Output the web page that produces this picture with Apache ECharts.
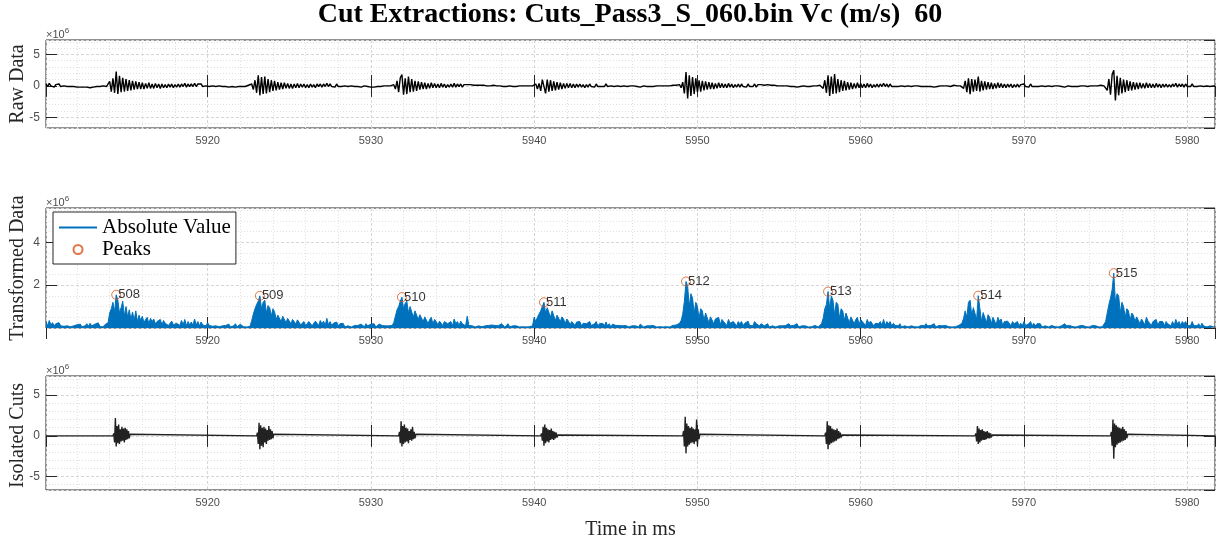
<!DOCTYPE html>
<html>
<head>
<meta charset="utf-8">
<title>Cut Extractions</title>
<script src="https://cdn.jsdelivr.net/npm/echarts@6/dist/echarts.min.js"></script>
<style>
  html, body { margin: 0; padding: 0; background: #fff; }
  #chart { width: 1217px; height: 541px; }
</style>
</head>
<body>
<div id="chart"></div>
<script>
  // samples every 0.1 ms, values in units of 1e6
  const timeStart = 5910.1
  const timeStep = 0.1

  const rawData = [
    0.3,-0.1,0.4,0.0,0.3,-0.2,0.2,0.1,0.3,-0.1,
    0.2,0.0,0.1,-0.1,0.1,-0.1,0.0,-0.1,0.0,-0.2,
    -0.1,-0.2,0.0,-0.2,-0.1,-0.2,-0.1,-0.3,-0.1,-0.2,
    -0.2,-0.1,-0.3,-0.1,-0.2,0.0,-0.2,-0.1,0.2,0.7,
    -0.9,1.2,-1.1,2.3,-1.3,1.6,-1.0,1.3,-0.9,1.1,
    -0.8,0.9,-0.7,0.8,-0.6,0.7,-0.5,0.6,-0.5,0.5,
    -0.5,0.4,-0.4,0.5,-0.4,0.3,-0.4,0.4,-0.3,0.3,
    -0.4,0.3,-0.3,0.2,-0.3,0.3,-0.2,0.3,-0.3,0.2,
    -0.2,0.3,-0.2,0.3,-0.1,0.4,-0.2,0.3,-0.1,0.3,
    -0.1,0.4,-0.1,0.3,0.0,0.3,-0.1,0.2,0.0,0.2,
    -0.1,0.2,0.0,0.1,-0.1,0.1,0.0,0.1,-0.1,0.0,
    -0.1,0.0,-0.2,0.0,-0.1,-0.1,-0.2,0.0,-0.1,-0.2,
    -0.1,0.0,-0.1,0.0,0.1,0.0,0.3,-0.6,0.9,-1.1,
    1.7,-1.5,1.4,-1.3,1.5,-1.2,1.1,-1.0,0.9,-0.8,
    0.8,-0.7,0.6,-0.6,0.5,-0.5,0.5,-0.4,0.4,-0.4,
    0.3,-0.4,0.3,-0.3,0.4,-0.3,0.3,-0.2,0.3,-0.3,
    0.2,-0.3,0.3,-0.2,0.2,-0.3,0.3,-0.1,0.3,-0.2,
    0.3,-0.1,0.4,-0.1,0.3,-0.1,0.2,-0.2,0.3,-0.1,
    0.2,-0.1,0.2,0.0,0.1,-0.1,0.1,0.0,0.0,-0.1,
    0.0,-0.1,0.0,-0.2,-0.1,0.0,-0.2,-0.1,-0.1,-0.2,
    -0.1,-0.2,0.0,-0.1,-0.2,-0.1,-0.1,0.0,-0.1,0.0,
    -0.1,0.0,0.1,0.2,-0.5,0.8,-1.0,1.3,1.8,-1.4,
    1.2,-1.3,1.5,-1.0,1.1,-0.9,0.8,-0.8,0.7,-0.6,
    0.6,-0.5,0.5,-0.5,0.4,-0.4,0.5,-0.3,0.4,-0.3,
    0.3,-0.3,0.4,-0.2,0.3,-0.3,0.2,-0.2,0.3,-0.2,
    0.4,-0.2,0.3,-0.1,0.3,-0.2,0.2,-0.1,0.2,-0.1,
    0.2,-0.1,0.1,0.0,0.1,-0.1,0.1,0.0,0.1,-0.1,
    0.0,-0.1,0.0,-0.1,0.1,-0.1,0.0,-0.1,0.0,-0.2,
    -0.1,0.0,-0.1,-0.2,0.0,-0.1,-0.1,0.0,-0.1,0.0,
    0.0,-0.1,0.0,0.1,0.0,-0.1,0.0,0.1,0.0,0.1,
    0.3,-0.5,0.4,-0.8,1.0,1.3,-1.2,1.0,-0.9,0.9,
    -0.8,0.7,-0.7,0.6,-0.6,0.5,-0.5,0.4,-0.4,0.4,
    -0.3,0.4,-0.3,0.3,-0.3,0.3,-0.2,0.3,-0.2,0.2,
    -0.3,0.2,-0.2,0.3,-0.1,0.2,-0.2,0.3,-0.1,0.2,
    -0.1,0.2,-0.1,0.3,-0.1,0.2,0.0,0.2,-0.1,0.1,
    0.0,0.1,-0.1,0.1,0.0,0.1,-0.1,0.0,0.0,-0.1,
    0.0,-0.1,-0.1,0.0,-0.2,-0.1,0.0,-0.1,-0.1,0.0,
    -0.1,0.0,-0.1,0.0,0.0,-0.1,0.0,0.1,0.0,-0.1,
    0.0,0.1,0.0,0.0,0.1,-0.1,0.1,0.0,0.2,-0.3,
    0.6,-1.2,2.2,-2.0,1.7,-1.6,1.4,-1.3,1.2,-1.0,
    0.9,-0.9,0.8,-0.7,0.7,-0.6,0.6,-0.5,0.5,-0.5,
    0.4,-0.4,0.5,-0.3,0.4,-0.3,0.3,-0.3,0.4,-0.2,
    0.3,-0.3,0.2,-0.2,0.3,-0.2,0.3,-0.1,0.2,-0.2,
    0.3,-0.1,0.2,-0.1,0.3,-0.2,0.2,-0.1,0.2,-0.1,
    0.1,-0.1,0.2,0.0,0.1,-0.1,0.1,0.0,0.0,-0.1,
    0.0,-0.1,0.0,-0.1,0.0,-0.2,-0.1,0.0,-0.1,-0.1,
    -0.2,0.0,-0.1,-0.1,0.0,-0.1,-0.1,0.0,-0.1,0.0,
    0.0,-0.1,0.0,0.0,0.1,0.2,-0.4,0.9,-1.1,1.7,
    -1.6,1.5,-1.3,1.9,-1.2,1.1,-1.0,0.9,-0.8,0.8,
    -0.7,0.6,-0.6,0.5,-0.5,0.4,-0.4,0.5,-0.3,0.4,
    -0.3,0.3,-0.3,0.4,-0.2,0.3,-0.3,0.2,-0.2,0.3,
    -0.2,0.3,-0.1,0.4,-0.1,0.3,-0.2,0.3,-0.1,0.2,
    -0.1,0.2,-0.1,0.2,0.0,0.1,-0.1,0.1,0.0,0.1,
    -0.1,0.0,0.0,-0.1,0.0,-0.1,-0.1,0.0,-0.1,-0.2,
    -0.1,0.0,-0.1,-0.1,-0.2,0.0,-0.1,-0.1,0.0,-0.1,
    0.0,-0.1,0.0,0.0,-0.1,0.0,0.1,0.0,0.0,0.1,
    0.0,0.2,-0.4,0.8,-1.0,1.2,-1.3,1.1,-0.9,1.0,
    -0.8,1.5,-0.9,0.8,-0.7,0.7,-0.6,0.6,-0.5,0.5,
    -0.5,0.4,-0.4,0.5,-0.3,0.4,-0.3,0.3,-0.3,0.3,
    -0.2,0.3,-0.3,0.2,-0.2,0.3,-0.2,0.2,-0.1,0.3,
    -0.1,0.2,-0.2,0.3,-0.1,0.2,-0.1,0.2,-0.1,0.2,
    0.0,0.1,-0.1,0.1,0.0,0.1,-0.1,0.0,0.0,-0.1,
    0.0,-0.1,-0.1,0.0,-0.2,-0.1,0.0,-0.1,-0.1,0.0,
    -0.1,0.0,-0.1,-0.1,0.0,-0.1,0.0,0.0,-0.1,0.0,
    0.0,-0.1,0.0,0.1,0.0,0.0,0.1,0.0,0.0,0.3,
    -0.7,1.1,-1.4,1.8,2.5,-2.3,1.6,-1.5,1.3,-1.2,
    1.0,-1.0,0.9,-0.8,0.7,-0.7,0.6,-0.6,0.5,-0.5,
    0.5,-0.4,0.4,-0.4,0.5,-0.3,0.4,-0.3,0.3,-0.3,
    0.4,-0.2,0.3,-0.3,0.3,-0.2,0.3,-0.2,0.2,-0.2,
    0.3,-0.1,0.4,-0.2,0.3,-0.1,0.3,-0.2,0.3,-0.1,
    0.2,-0.1,0.3,-0.1,0.2,-0.1,0.2,0.0,0.2,-0.1,
    0.1,0.0,0.1,-0.1,0.1,0.0,0.0
  ]

  const absData = [
    0.3,0.1,0.35,0.15,0.25,0.1,0.2,0.12,0.25,0.1,
    0.18,0.08,0.15,0.1,0.14,0.06,0.12,0.1,0.08,0.15,
    0.1,0.18,0.06,0.15,0.1,0.2,0.08,0.22,0.1,0.16,
    0.18,0.1,0.24,0.08,0.17,0.05,0.15,0.1,0.25,0.7,
    0.9,1.2,0.75,1.55,1.3,0.7,0.95,1.25,0.55,1.0,
    0.5,0.85,0.4,0.75,0.35,0.8,0.3,0.6,0.35,0.55,
    0.25,0.4,0.5,0.2,0.45,0.3,0.42,0.2,0.3,0.38,
    0.4,0.15,0.35,0.22,0.3,0.12,0.2,0.32,0.15,0.2,
    0.22,0.3,0.12,0.35,0.15,0.4,0.1,0.3,0.14,0.28,
    0.12,0.42,0.15,0.3,0.1,0.28,0.14,0.22,0.1,0.25,
    0.12,0.2,0.08,0.15,0.1,0.14,0.06,0.12,0.1,0.08,
    0.12,0.05,0.18,0.06,0.12,0.1,0.2,0.05,0.12,0.18,
    0.1,0.06,0.12,0.05,0.1,0.08,0.35,0.65,0.9,1.1,
    1.25,1.5,0.9,1.2,1.3,0.7,1.05,0.95,0.55,0.9,
    0.75,0.4,0.6,0.65,0.3,0.55,0.48,0.25,0.45,0.4,
    0.2,0.4,0.3,0.18,0.38,0.3,0.15,0.22,0.3,0.12,
    0.2,0.3,0.28,0.1,0.22,0.32,0.26,0.12,0.35,0.2,
    0.32,0.12,0.45,0.15,0.3,0.12,0.22,0.2,0.28,0.1,
    0.2,0.12,0.22,0.06,0.14,0.1,0.12,0.05,0.08,0.12,
    0.06,0.12,0.05,0.18,0.1,0.06,0.2,0.1,0.12,0.18,
    0.1,0.2,0.05,0.12,0.18,0.1,0.12,0.06,0.1,0.05,
    0.1,0.06,0.12,0.25,0.55,0.85,1.0,1.25,1.44,0.9,
    1.15,1.25,0.7,1.0,1.05,0.5,0.8,0.82,0.4,0.62,
    0.6,0.3,0.52,0.48,0.2,0.4,0.5,0.18,0.4,0.3,
    0.15,0.32,0.4,0.12,0.3,0.3,0.2,0.24,0.3,0.1,
    0.42,0.2,0.3,0.12,0.32,0.2,0.22,0.1,0.55,0.12,
    0.2,0.1,0.14,0.05,0.12,0.1,0.15,0.06,0.12,0.1,
    0.06,0.12,0.05,0.14,0.1,0.12,0.05,0.1,0.06,0.2,
    0.12,0.05,0.1,0.2,0.06,0.12,0.1,0.05,0.1,0.06,
    0.05,0.12,0.06,0.1,0.05,0.1,0.06,0.12,0.1,0.5,
    0.3,0.5,0.45,0.8,1.0,1.2,0.7,0.95,0.9,0.5,
    0.8,0.72,0.35,0.6,0.62,0.3,0.52,0.42,0.2,0.42,
    0.32,0.15,0.3,0.3,0.12,0.28,0.22,0.3,0.1,0.22,
    0.3,0.2,0.22,0.3,0.12,0.2,0.2,0.3,0.1,0.2,
    0.12,0.22,0.1,0.28,0.1,0.2,0.05,0.18,0.1,0.12,
    0.05,0.12,0.1,0.1,0.05,0.12,0.1,0.05,0.06,0.1,
    0.05,0.1,0.12,0.05,0.18,0.1,0.05,0.12,0.1,0.06,
    0.1,0.05,0.12,0.06,0.05,0.1,0.06,0.12,0.05,0.1,
    0.06,0.12,0.05,0.06,0.12,0.1,0.14,0.06,0.22,0.35,
    0.65,1.25,2.17,1.95,1.0,1.6,1.4,0.7,1.2,1.0,
    0.45,0.9,0.8,0.35,0.7,0.62,0.25,0.52,0.5,0.2,
    0.42,0.4,0.5,0.15,0.4,0.3,0.32,0.12,0.4,0.22,
    0.3,0.3,0.22,0.1,0.3,0.2,0.3,0.12,0.22,0.2,
    0.32,0.12,0.2,0.1,0.3,0.2,0.22,0.1,0.2,0.12,
    0.1,0.12,0.2,0.05,0.12,0.1,0.1,0.05,0.06,0.1,
    0.05,0.1,0.06,0.12,0.05,0.2,0.1,0.05,0.12,0.1,
    0.2,0.05,0.12,0.1,0.06,0.1,0.12,0.05,0.1,0.06,
    0.05,0.12,0.06,0.05,0.12,0.2,0.45,0.9,1.1,1.7,
    0.9,1.5,1.3,0.6,1.2,1.1,0.45,0.9,0.8,0.35,
    0.7,0.62,0.25,0.52,0.5,0.2,0.4,0.5,0.15,0.4,
    0.3,0.32,0.12,0.4,0.2,0.32,0.3,0.1,0.22,0.3,
    0.2,0.3,0.12,0.4,0.12,0.3,0.2,0.3,0.1,0.22,
    0.12,0.2,0.1,0.2,0.05,0.12,0.1,0.12,0.05,0.1,
    0.1,0.05,0.06,0.12,0.05,0.1,0.12,0.05,0.1,0.2,
    0.1,0.05,0.12,0.1,0.2,0.05,0.1,0.12,0.05,0.1,
    0.06,0.12,0.05,0.06,0.1,0.05,0.12,0.06,0.05,0.12,
    0.06,0.22,0.45,0.8,0.5,1.2,1.3,0.6,0.95,1.0,
    0.4,1.51,0.9,0.3,0.72,0.7,0.25,0.62,0.5,0.2,
    0.5,0.42,0.15,0.5,0.32,0.42,0.12,0.3,0.3,0.32,
    0.22,0.1,0.3,0.2,0.22,0.3,0.1,0.22,0.12,0.3,
    0.12,0.2,0.2,0.3,0.1,0.22,0.1,0.2,0.12,0.2,
    0.05,0.12,0.1,0.12,0.05,0.1,0.12,0.05,0.06,0.1,
    0.05,0.12,0.1,0.06,0.2,0.1,0.05,0.12,0.1,0.06,
    0.1,0.05,0.12,0.1,0.06,0.12,0.05,0.06,0.1,0.05,
    0.06,0.12,0.05,0.1,0.06,0.05,0.12,0.06,0.1,0.3,
    0.7,1.1,1.4,1.8,2.56,1.2,1.6,1.5,0.7,1.2,
    1.0,0.5,0.9,0.8,0.35,0.7,0.6,0.3,0.52,0.5,
    0.2,0.42,0.4,0.15,0.5,0.32,0.4,0.12,0.3,0.3,
    0.4,0.12,0.3,0.3,0.3,0.1,0.3,0.2,0.22,0.1,
    0.3,0.12,0.4,0.2,0.3,0.12,0.3,0.2,0.3,0.12,
    0.2,0.1,0.3,0.12,0.2,0.1,0.2,0.05,0.22,0.1,
    0.12,0.05,0.14,0.1,0.12,0.06,0.1
  ]

  const peakTimes = [5914.4, 5923.2, 5931.9, 5940.6, 5949.3, 5958.0, 5967.2, 5975.5]
  const peakValues = [1.55, 1.5, 1.44, 1.2, 2.17, 1.7, 1.51, 2.56]
  const peakLabels = ['508', '509', '510', '511', '512', '513', '514', '515']

  // isolated cuts: one short burst per peak, samples every 0.05 ms, zero elsewhere
  const cutStep = 0.05
  const cutStarts = [5914.2, 5923.0, 5931.7, 5940.4, 5949.1, 5957.8, 5967.0, 5975.3]
  const cutSamples = [
    [0.3,-0.8,2.2,-1.3,1.2,-0.9,1.4,-1.0,0.8,-0.7,1.1,-0.6,0.9,-0.8,1.0,-0.5,0.8,-0.4,0.6,-0.3,0.2],
    [0.4,-1.0,1.6,-1.65,1.3,-1.2,1.0,-1.4,1.1,-0.8,0.9,-1.0,0.7,-0.6,1.2,-0.5,0.8,-0.4,0.6,-0.3,0.2],
    [0.5,-0.9,1.8,-1.3,1.2,-1.0,1.4,-0.8,1.0,-0.7,0.9,-0.9,0.6,-0.5,0.8,-0.6,1.1,-0.4,0.5,-0.3,0.2],
    [0.3,-0.6,1.1,-1.2,1.4,-0.9,1.0,-0.7,0.8,-0.8,0.7,-0.5,0.9,-0.4,0.6,-0.5,0.5,-0.3,0.4,-0.2,0.1],
    [0.6,-1.3,2.35,-2.15,1.5,-1.3,1.2,-1.1,1.0,-0.9,1.1,-0.8,0.9,-1.0,0.8,-0.7,2.0,-1.2,0.8,-0.4,0.2],
    [0.4,-1.0,1.8,-1.65,1.3,-1.1,1.2,-0.9,0.9,-0.8,0.8,-0.7,0.7,-0.6,0.9,-0.4,0.6,-0.3,0.4,-0.2,0.1],
    [0.3,-0.7,1.2,-1.0,0.9,-0.8,0.7,-0.6,0.8,-0.5,0.6,-0.5,0.5,-0.4,0.6,-0.3,0.4,-0.3,0.3,-0.2,0.1],
    [0.5,-1.2,2.0,-2.8,1.5,-1.4,1.3,-1.1,1.1,-0.9,1.0,-0.8,0.9,-0.7,1.1,-0.6,0.8,-0.5,0.6,-0.3,0.2]
  ]

  const xMin = 5910.1
  const xMax = 5981.7

  const toPoints = arr => arr.map((v, i) => [+(timeStart + i * timeStep).toFixed(2), v])

  const cutPoints = [[xMin, 0]]
  cutStarts.forEach((t0, k) => {
    const s = cutSamples[k]
    cutPoints.push([t0, 0])
    s.forEach((v, i) => cutPoints.push([+(t0 + (i + 1) * cutStep).toFixed(3), v]))
    cutPoints.push([+(t0 + (s.length + 1) * cutStep).toFixed(3), 0])
  })
  cutPoints.push([xMax, 0])

  const serif = 'Liberation Serif, Times New Roman, serif'
  const sans = 'Liberation Sans, Arial, sans-serif'
  const axisColor = '#262626'

  const grids = [
    { left: 46, right: 2, top: 40, height: 88 },
    { left: 46, right: 2, top: 208, height: 120 },
    { left: 46, right: 2, top: 376, height: 119 }
  ]
  const yRanges = [[-6.7, 7.3], [0, 5.6], [-6.65, 7.35]]
  const yMinorSplit = [5, 4, 5]

  const tickStyle = { show: true, inside: true, length: 11, lineStyle: { color: axisColor, width: 1 } }
  const majorGrid = { show: true, lineStyle: { color: '#d6d6d6', type: [3, 2], width: 1 } }
  const minorGrid = { show: true, lineStyle: { color: '#e0e0e0', type: [1, 2], width: 1 } }

  const xAxes = []
  const yAxes = []
  grids.forEach((g, i) => {
    xAxes.push({
      type: 'value', gridIndex: i, position: 'bottom',
      min: xMin, max: xMax, splitNumber: 7,
      axisLine: { show: false },
      axisTick: tickStyle,
      axisLabel: {
        color: '#4d4d4d', fontSize: 11, fontFamily: sans, margin: 7,
        showMinLabel: false, showMaxLabel: false,
        formatter: v => String(v)
      },
      splitLine: majorGrid,
      minorTick: { show: false, splitNumber: 5 },
      minorSplitLine: minorGrid,
      name: i === 2 ? 'Time in ms' : '',
      nameLocation: 'middle',
      nameGap: 30,
      nameTextStyle: { fontFamily: serif, fontSize: 20, color: axisColor }
    })
    xAxes.push({
      type: 'value', gridIndex: i, position: 'top',
      min: xMin, max: xMax, splitNumber: 7,
      axisLine: { show: false },
      axisTick: tickStyle,
      axisLabel: { show: false },
      splitLine: { show: false }
    })
    yAxes.push({
      type: 'value', gridIndex: i, position: 'left',
      min: yRanges[i][0], max: yRanges[i][1], splitNumber: 3,
      axisLine: { show: false },
      axisTick: tickStyle,
      axisLabel: { color: '#4d4d4d', fontSize: 12, fontFamily: sans, margin: 6, showMinLabel: false, showMaxLabel: false },
      splitLine: majorGrid,
      minorTick: { show: false, splitNumber: yMinorSplit[i] },
      minorSplitLine: minorGrid,
      name: '{a|\u00d710}{b|6}',
      nameLocation: 'end',
      nameGap: -2,
      nameTextStyle: {
        align: 'left',
        rich: {
          a: { fontSize: 11, fontFamily: sans, color: '#4d4d4d' },
          b: { fontSize: 8, fontFamily: sans, color: '#4d4d4d', padding: [0, 0, 7, 0] }
        }
      }
    })
    yAxes.push({
      type: 'value', gridIndex: i, position: 'right',
      min: yRanges[i][0], max: yRanges[i][1], splitNumber: 3,
      axisLine: { show: false },
      axisTick: tickStyle,
      axisLabel: { show: false },
      splitLine: { show: false }
    })
  })

  const yTitles = ['Raw Data', 'Transformed Data', 'Isolated Cuts']

  const chart = echarts.init(document.getElementById('chart'))
  chart.setOption({
    animation: false,
    backgroundColor: '#fff',
    title: {
      text: 'Cut Extractions: Cuts_Pass3_S_060.bin Vc (m/s)  60',
      left: 625, top: -4, textAlign: 'center',
      textStyle: { fontFamily: serif, fontSize: 28, fontWeight: 'bold', color: '#000' }
    },
    grid: grids.map(g => Object.assign({ show: true, borderColor: axisColor, borderWidth: 1, backgroundColor: '#fff' }, g)),
    xAxis: xAxes,
    yAxis: yAxes,
    legend: {
      data: [
        { name: 'Absolute Value', itemStyle: { color: 'rgba(0,0,0,0)', borderWidth: 0 } },
        'Peaks'
      ],
      orient: 'vertical',
      left: 53, top: 212,
      itemWidth: 38, itemHeight: 9, itemGap: 1,
      padding: [5, 5, 4, 5],
      backgroundColor: '#fff',
      borderColor: axisColor, borderWidth: 1, borderRadius: 0,
      selectedMode: false,
      textStyle: { fontFamily: serif, fontSize: 21, lineHeight: 21, color: '#000' }
    },
    graphic: yTitles.map((t, i) => ({
      type: 'text',
      x: 18,
      y: grids[i].top + grids[i].height / 2,
      rotation: Math.PI / 2,
      style: {
        text: t, fontFamily: serif, fontSize: 20, fill: axisColor,
        align: 'center', verticalAlign: 'middle', textAlign: 'center', textVerticalAlign: 'middle'
      }
    })),
    series: [
      {
        name: 'Raw Data', type: 'line',
        xAxisIndex: 0, yAxisIndex: 0,
        data: toPoints(rawData),
        symbol: 'none', sampling: null,
        lineStyle: { color: '#000', width: 1.4 }
      },
      {
        name: 'Absolute Value', type: 'line',
        xAxisIndex: 2, yAxisIndex: 2,
        data: toPoints(absData),
        symbol: 'none',
        itemStyle: { color: '#0072BD' },
        lineStyle: { color: '#0072BD', width: 1 },
        areaStyle: { color: '#0072BD', opacity: 1 }
      },
      {
        name: 'Peaks', type: 'scatter',
        xAxisIndex: 2, yAxisIndex: 2,
        data: peakTimes.map((t, i) => [t, peakValues[i]]),
        symbol: 'circle', symbolSize: 9,
        itemStyle: { color: 'rgba(0,0,0,0)', borderColor: '#D95319', borderWidth: 1 },
        label: {
          show: true, position: 'right', distance: -3,
          formatter: p => peakLabels[p.dataIndex],
          fontFamily: sans, fontSize: 13, color: '#000'
        },
        z: 5
      },
      {
        name: 'Isolated Cuts', type: 'line',
        xAxisIndex: 4, yAxisIndex: 4,
        data: cutPoints,
        symbol: 'none',
        lineStyle: { color: '#222', width: 1.4 }
      }
    ]
  })
</script>
</body>
</html>
